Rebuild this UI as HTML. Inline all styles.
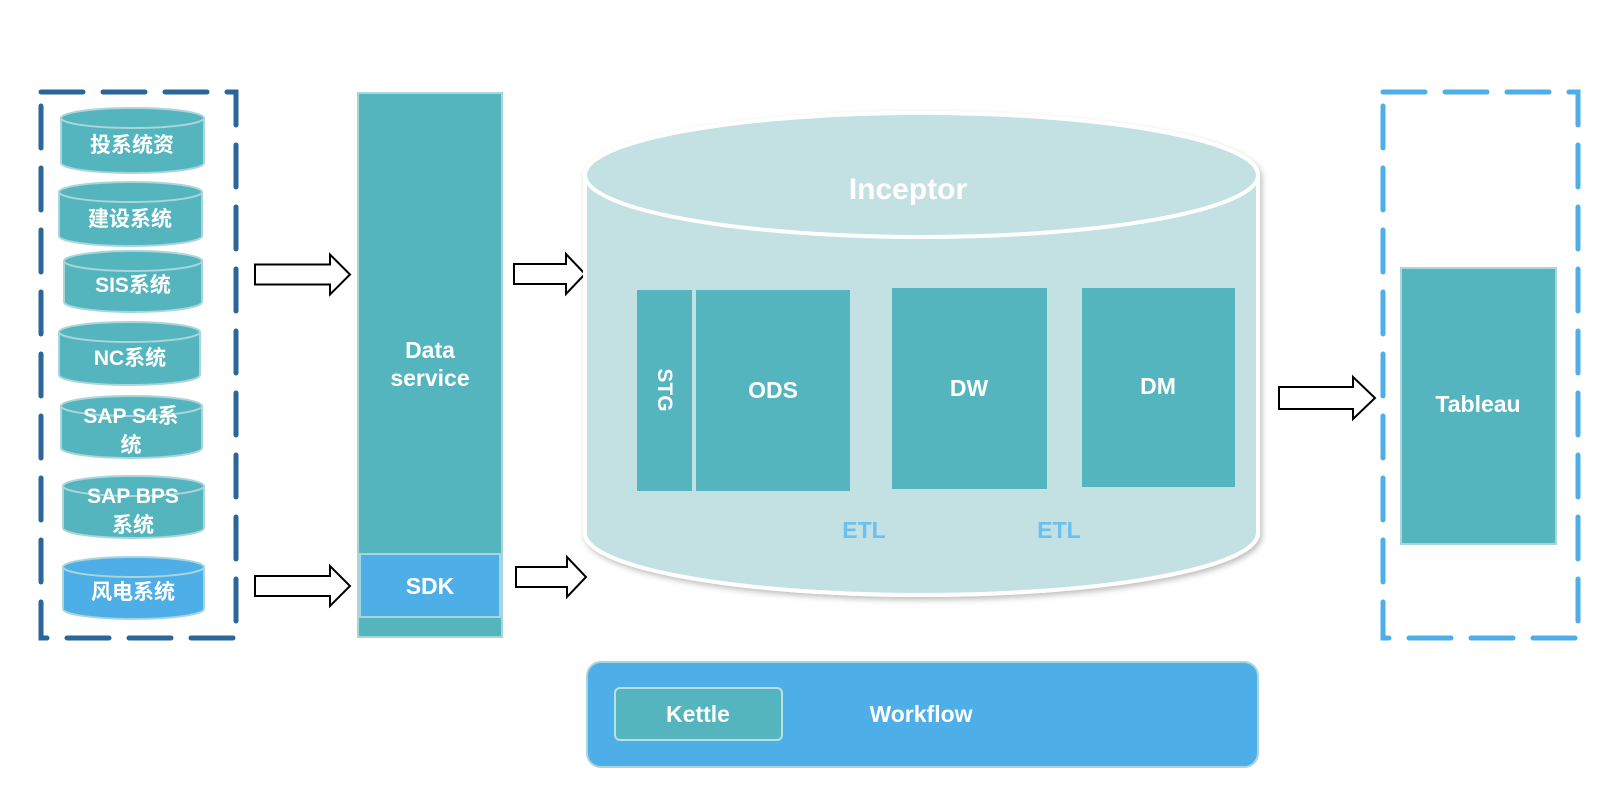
<!DOCTYPE html>
<html><head><meta charset="utf-8"><style>
html,body{margin:0;padding:0;background:#fff;}
svg{display:block;}
text{font-family:"Liberation Sans","Noto Sans CJK SC",sans-serif;font-weight:bold;fill:#fff;text-anchor:middle;}
</style></head><body>
<svg width="1608" height="800" viewBox="0 0 1608 800" xmlns="http://www.w3.org/2000/svg">
<defs>
<filter id="sh" x="-5%" y="-5%" width="110%" height="115%"><feDropShadow dx="2" dy="3" stdDeviation="3" flood-color="#000" flood-opacity="0.25"/></filter>
</defs>
<rect x="41" y="92" width="195" height="546" fill="none" stroke="#2b6699" stroke-width="5" stroke-dasharray="42,20" stroke-linecap="round"/>
<g stroke="#a9d6da" stroke-width="2">
<path d="M61,118 V163 A71.5,10 0 0 0 204,163 V118 Z" fill="#55b5bf"/><ellipse cx="132.5" cy="118" rx="71.5" ry="10" fill="#55b5bf"/>
<path d="M59,192 V236 A71.5,10 0 0 0 202,236 V192 Z" fill="#55b5bf"/><ellipse cx="130.5" cy="192" rx="71.5" ry="10" fill="#55b5bf"/>
<path d="M64,261 V302 A69,10 0 0 0 202,302 V261 Z" fill="#55b5bf"/><ellipse cx="133" cy="261" rx="69" ry="10" fill="#55b5bf"/>
<path d="M59,332 V375 A70.5,10 0 0 0 200,375 V332 Z" fill="#55b5bf"/><ellipse cx="129.5" cy="332" rx="70.5" ry="10" fill="#55b5bf"/>
<path d="M61,406 V448 A70.5,10 0 0 0 202,448 V406 Z" fill="#55b5bf"/><ellipse cx="131.5" cy="406" rx="70.5" ry="10" fill="#55b5bf"/>
<path d="M63,486 V528 A70.5,10 0 0 0 204,528 V486 Z" fill="#55b5bf"/><ellipse cx="133.5" cy="486" rx="70.5" ry="10" fill="#55b5bf"/>
<path d="M63,567 V609 A70.5,10 0 0 0 204,609 V567 Z" fill="#4daee8"/><ellipse cx="133.5" cy="567" rx="70.5" ry="10" fill="#4daee8"/>
</g>
<g font-size="21">
<text x="132" y="152">投系统资</text>
<text x="130" y="226">建设系统</text>
<text x="133" y="292">SIS系统</text>
<text x="130" y="365">NC系统</text>
<text x="131" y="423">SAP S4系</text>
<text x="131" y="452">统</text>
<text x="133" y="503">SAP BPS</text>
<text x="133" y="532">系统</text>
<text x="133" y="599">风电系统</text>
</g>
<g fill="#fff" stroke="#000" stroke-width="2" stroke-linejoin="miter">
<polygon points="255,264.5 330,264.5 330,254.5 350,274.5 330,294.5 330,284.5 255,284.5"/>
<polygon points="255,576 330,576 330,566 350,586 330,606 330,596 255,596"/>
<polygon points="514,264 566,264 566,254 585,274 566,294 566,284 514,284"/>
<polygon points="516,567 567,567 567,557 586,577 567,597 567,587 516,587"/>
<polygon points="850,377 873,377 873,366 893,389 873,412 873,401 850,401"/>
<polygon points="1044,377 1065,377 1065,366 1085,389 1065,412 1065,401 1044,401"/>
<polygon points="1279,387 1353,387 1353,377 1375,398 1353,419 1353,409 1279,409"/>
</g>
<rect x="358" y="93" width="144" height="544" fill="#55b5bf" stroke="#a9d6da" stroke-width="2"/>
<rect x="360" y="554" width="140" height="63" fill="#4daee8" stroke="#a9d6da" stroke-width="2"/>
<text x="430" y="358" font-size="23">Data</text>
<text x="430" y="386" font-size="23">service</text>
<text x="430" y="594" font-size="23">SDK</text>
<g filter="url(#sh)">
<path d="M585,175 V533 A336.5,62 0 0 0 1258,533 V175 Z" fill="#c3e0e3" stroke="#fff" stroke-width="4"/>
<ellipse cx="921.5" cy="175" rx="336.5" ry="62" fill="#c3e0e3" stroke="#fff" stroke-width="4"/>
</g>
<text x="908" y="199" font-size="30">Inceptor</text>
<rect x="637" y="290" width="55" height="201" fill="#55b5bf"/>
<rect x="696" y="290" width="154" height="201" fill="#55b5bf"/>
<rect x="892" y="288" width="155" height="201" fill="#55b5bf"/>
<rect x="1082" y="288" width="153" height="199" fill="#55b5bf"/>
<text x="0" y="0" font-size="21" transform="translate(658,390) rotate(90)">STG</text>
<text x="773" y="398" font-size="23">ODS</text>
<text x="969" y="396" font-size="23">DW</text>
<text x="1158" y="394" font-size="23">DM</text>
<text x="864" y="538" font-size="23" style="fill:#6cc0f0">ETL</text>
<text x="1059" y="538" font-size="23" style="fill:#6cc0f0">ETL</text>
<rect x="1383" y="92" width="195" height="546" fill="none" stroke="#4daee8" stroke-width="5" stroke-dasharray="42,20" stroke-linecap="round"/>
<rect x="1401" y="268" width="155" height="276" fill="#55b5bf" stroke="#a9d6da" stroke-width="2"/>
<text x="1478" y="412" font-size="23">Tableau</text>
<rect x="587" y="662" width="671" height="105" rx="14" fill="#4daee8" stroke="#a9d6da" stroke-width="2"/>
<rect x="615" y="688" width="167" height="52" rx="5" fill="#55b5bf" stroke="#b8e0e4" stroke-width="2"/>
<text x="698" y="722" font-size="23">Kettle</text>
<text x="921" y="722" font-size="23">Workflow</text>
</svg>
</body></html>
